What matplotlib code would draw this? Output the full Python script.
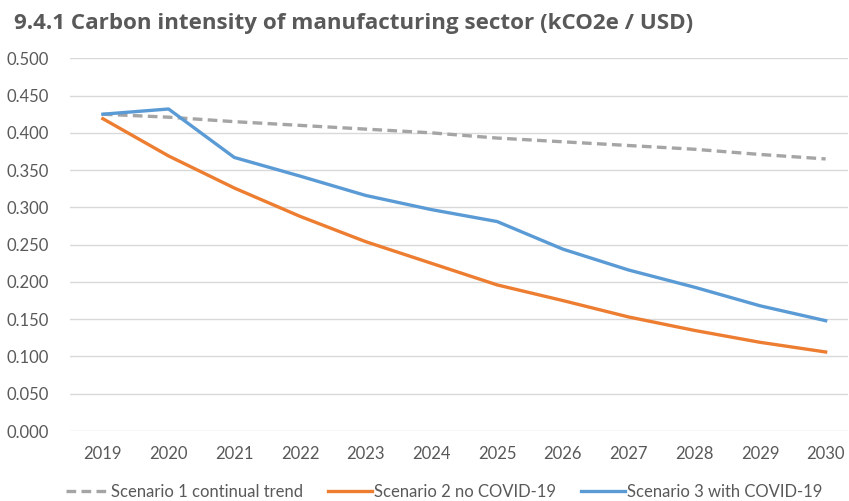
import matplotlib
matplotlib.use("Agg")
import matplotlib.pyplot as plt
import numpy as np

# Carbon intensity of the manufacturing sector, three scenarios
years = ["2019", "2020", "2021", "2022", "2023", "2024",
         "2025", "2026", "2027", "2028", "2029", "2030"]
scenario1 = [0.425, 0.421, 0.415, 0.410, 0.405, 0.400,
             0.393, 0.388, 0.383, 0.378, 0.371, 0.365]
scenario2 = [0.419, 0.369, 0.326, 0.288, 0.254, 0.225,
             0.196, 0.175, 0.153, 0.135, 0.119, 0.106]
scenario3 = [0.425, 0.432, 0.367, 0.342, 0.316, 0.297,
             0.281, 0.244, 0.216, 0.193, 0.168, 0.148]
yticks = [0.0, 0.05, 0.1, 0.15, 0.2, 0.25, 0.3, 0.35, 0.4, 0.45, 0.5]

text_color = "#595959"
plt.rcParams["font.family"] = ["Lato", "DejaVu Sans"]

fig = plt.figure(figsize=(8.49, 5.01), dpi=100)
ax = fig.add_axes([70 / 849, 1 - 431 / 501, 778 / 849, (431 - 58.3) / 501])

x = np.arange(len(years))
ax.plot(x, scenario1, color="#A5A5A5", lw=2.4, ls=(0, (2.9, 1.6)),
        label="Scenario 1 continual trend", solid_capstyle="butt")
ax.plot(x, scenario2, color="#ED7D31", lw=2.4, label="Scenario 2 no COVID-19")
ax.plot(x, scenario3, color="#5B9BD5", lw=2.4, label="Scenario 3 with COVID-19")

ax.set_xlim(-0.5, 11.34)
ax.set_ylim(0, 0.5)
ax.set_xticks(x)
ax.set_xticklabels(years)
ax.set_yticks(yticks)
ax.set_yticklabels([f"{v:.3f}" for v in yticks])
ax.tick_params(length=0, labelsize=12, labelcolor=text_color)
ax.tick_params(axis="x", pad=11)
ax.tick_params(axis="y", pad=15)
ax.grid(axis="y", color="#D9D9D9", lw=1.0)
ax.set_axisbelow(True)
for s in ax.spines.values():
    s.set_visible(False)

fig.text(14 / 849, 1 - 23 / 501,
         "9.4.1 Carbon intensity of manufacturing sector (kCO2e / USD)",
         fontsize=16.1, fontweight="bold", color=text_color,
         family=["Open Sans", "DejaVu Sans"], va="center", ha="left")

leg = fig.legend(loc="center", bbox_to_anchor=(444 / 849, 1 - 492 / 501), ncol=3,
                 frameon=False, fontsize=12, handlelength=2.6,
                 handletextpad=0.15, columnspacing=1.5, labelcolor=text_color)

fig.savefig("out.png", dpi=100)
